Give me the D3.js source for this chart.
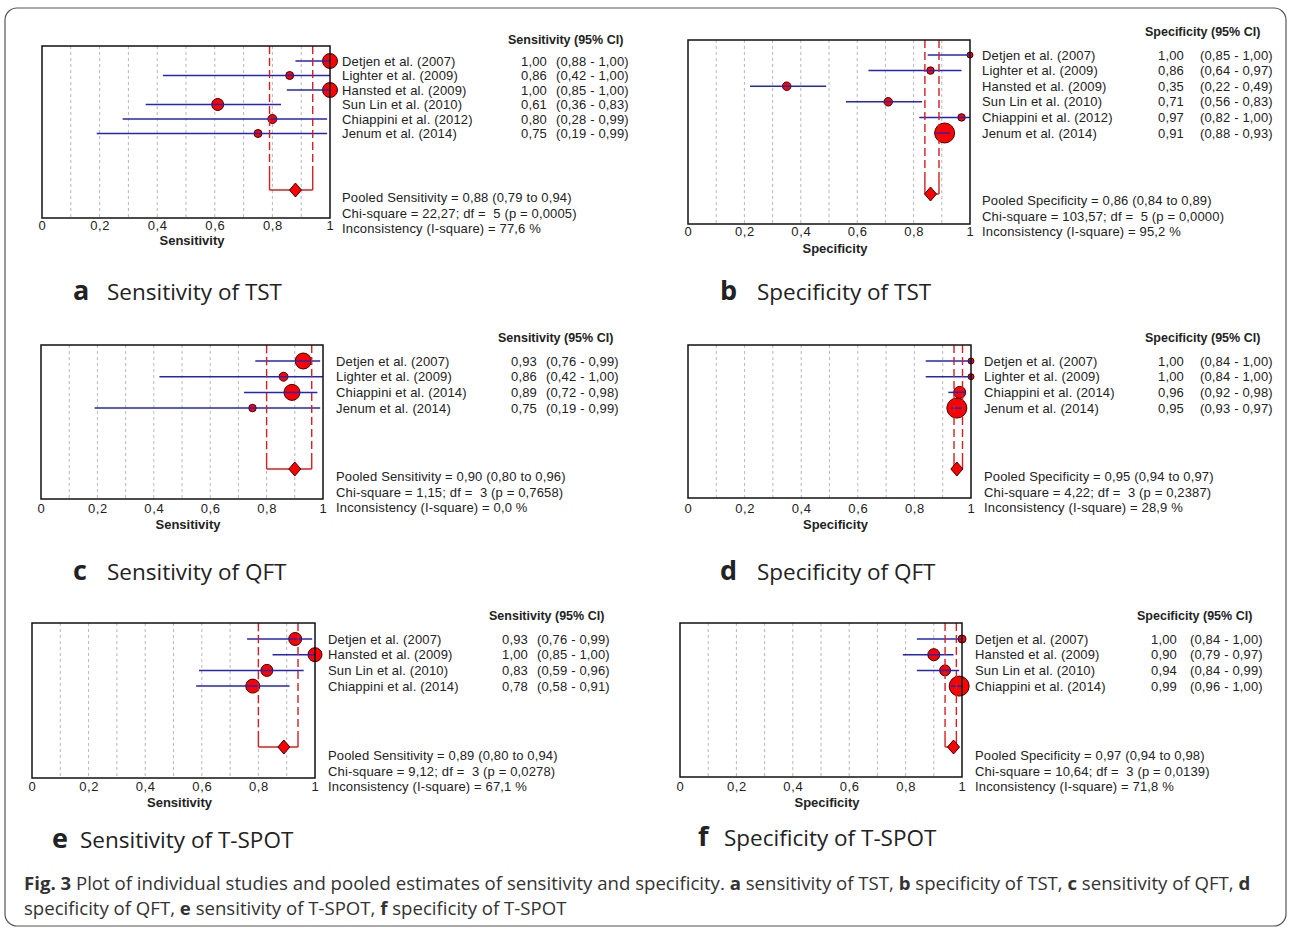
<!DOCTYPE html>
<html>
<head>
<meta charset="utf-8">
<script src="https://cdn.jsdelivr.net/npm/d3@7"></script>
<style>
  body { margin: 0; background: #fff; }
  svg { display: block; }
  .plot text { font-family: "Liberation Sans", Arial, sans-serif; font-size: 13px; letter-spacing: 0.15px; fill: #222; white-space: pre; }
  .plot .hdr { font-weight: bold; font-size: 12.5px; letter-spacing: 0; }
  .plot .xlab { font-weight: bold; font-size: 13px; letter-spacing: 0; }
  .plabel { font-family: "Open Sans", sans-serif; font-size: 22.5px; fill: #222; }
  .caption { font-family: "Open Sans", sans-serif; font-size: 18.6px; fill: #333; }
</style>
</head>
<body>
<svg width="1292" height="929"></svg>
<script>
// ---- data ----
const ticks = [0, 0.2, 0.4, 0.6, 0.8, 1];

// a: sensitivity of TST
const studiesA = ['Detjen et al. (2007)', 'Lighter et al. (2009)', 'Hansted et al. (2009)', 'Sun Lin et al. (2010)', 'Chiappini et al. (2012)', 'Jenum et al. (2014)'];
const estA = [1.00, 0.86, 1.00, 0.61, 0.80, 0.75];
const loA  = [0.88, 0.42, 0.85, 0.36, 0.28, 0.19];
const hiA  = [1.00, 1.00, 1.00, 0.83, 0.99, 0.99];
const wA   = [56, 16, 56, 36, 20, 16];
const pooledA = [0.88, 0.79, 0.94];
const statsA  = [22.27, 5, 0.0005, 77.6];

// b: specificity of TST
const studiesB = studiesA;
const estB = [1.00, 0.86, 0.35, 0.71, 0.97, 0.91];
const loB  = [0.85, 0.64, 0.22, 0.56, 0.82, 0.88];
const hiB  = [1.00, 0.97, 0.49, 0.83, 1.00, 0.93];
const wB   = [9, 14, 18, 18, 14, 100];
const pooledB = [0.86, 0.84, 0.89];
const statsB  = [103.57, 5, 0.0000, 95.2];

// c: sensitivity of QFT
const studiesC = ['Detjen et al. (2007)', 'Lighter et al. (2009)', 'Chiappini et al. (2014)', 'Jenum et al. (2014)'];
const estC = [0.93, 0.86, 0.89, 0.75];
const loC  = [0.76, 0.42, 0.72, 0.19];
const hiC  = [0.99, 1.00, 0.98, 0.99];
const wC   = [64, 20, 64, 14];
const pooledC = [0.90, 0.80, 0.96];
const statsC  = [1.15, 3, 0.7658, 0.0];

// d: specificity of QFT
const studiesD = studiesC;
const estD = [1.00, 1.00, 0.96, 0.95];
const loD  = [0.84, 0.84, 0.92, 0.93];
const hiD  = [1.00, 1.00, 0.98, 0.97];
const wD   = [9, 9, 36, 100];
const pooledD = [0.95, 0.94, 0.97];
const statsD  = [4.22, 3, 0.2387, 28.9];

// e: sensitivity of T-SPOT
const studiesE = ['Detjen et al. (2007)', 'Hansted et al. (2009)', 'Sun Lin et al. (2010)', 'Chiappini et al. (2014)'];
const estE = [0.93, 1.00, 0.83, 0.78];
const loE  = [0.76, 0.85, 0.59, 0.58];
const hiE  = [0.99, 1.00, 0.96, 0.91];
const wE   = [42, 49, 36, 49];
const pooledE = [0.89, 0.80, 0.94];
const statsE  = [9.12, 3, 0.0278, 67.1];

// f: specificity of T-SPOT
const studiesF = studiesE;
const estF = [1.00, 0.90, 0.94, 0.99];
const loF  = [0.84, 0.79, 0.84, 0.96];
const hiF  = [1.00, 0.97, 0.99, 1.00];
const wF   = [16, 36, 30, 100];
const pooledF = [0.97, 0.94, 0.98];
const statsF  = [10.64, 3, 0.0139, 71.8];

const titles = ['Sensitivity of TST', 'Specificity of TST', 'Sensitivity of QFT', 'Specificity of QFT', 'Sensitivity of T-SPOT', 'Specificity of T-SPOT'];
const measures = ['Sensitivity', 'Specificity', 'Sensitivity', 'Specificity', 'Sensitivity', 'Specificity'];

// ---- layout ----
const layout = [
  { x0: 42,  x1: 330, top: 46,  bottom: 218, row0: 61,  step: 14.5, pooledY: 190, textX: 342, estEnd: 547,  ciX: 556,  hdrX: 508,  hdrY: 44,  statsY: 202, tickY: 231, labY: 245, lab: [73, 107, 300] },
  { x0: 688, x1: 970, top: 40,  bottom: 224, row0: 55,  step: 15.6, pooledY: 194, textX: 982, estEnd: 1184, ciX: 1200, hdrX: 1145, hdrY: 36,  statsY: 205, tickY: 237, labY: 253, lab: [720, 757, 300] },
  { x0: 41,  x1: 323, top: 345, bottom: 499, row0: 361, step: 15.7, pooledY: 469, textX: 336, estEnd: 537,  ciX: 546,  hdrX: 498,  hdrY: 342, statsY: 481, tickY: 514, labY: 529, lab: [73, 107, 580] },
  { x0: 688, x1: 971, top: 345, bottom: 498, row0: 361, step: 15.7, pooledY: 469, textX: 984, estEnd: 1184, ciX: 1200, hdrX: 1145, hdrY: 342, statsY: 481, tickY: 514, labY: 529, lab: [720, 757, 580] },
  { x0: 32,  x1: 315, top: 623, bottom: 778, row0: 639, step: 15.7, pooledY: 747, textX: 328, estEnd: 528,  ciX: 537,  hdrX: 489,  hdrY: 620, statsY: 760, tickY: 792, labY: 807, lab: [52, 80, 848] },
  { x0: 680, x1: 962, top: 623, bottom: 777, row0: 639, step: 15.7, pooledY: 747, textX: 975, estEnd: 1177, ciX: 1190, hdrX: 1137, hdrY: 620, statsY: 760, tickY: 792, labY: 807, lab: [698, 724, 846] }
];

const panels = [
  [studiesA, estA, loA, hiA, wA, pooledA, statsA],
  [studiesB, estB, loB, hiB, wB, pooledB, statsB],
  [studiesC, estC, loC, hiC, wC, pooledC, statsC],
  [studiesD, estD, loD, hiD, wD, pooledD, statsD],
  [studiesE, estE, loE, hiE, wE, pooledE, statsE],
  [studiesF, estF, loF, hiF, wF, pooledF, statsF]
].map((p, i) => ({
  key: 'abcdef'[i], title: titles[i], measure: measures[i],
  rows: p[0].map((s, j) => ({ study: s, est: p[1][j], lo: p[2][j], hi: p[3][j], w: p[4][j] })),
  pooled: p[5], stats: p[6], L: layout[i]
}));

const comma = (f) => (v) => d3.format(f)(v).replace('.', ',');
const f2 = comma('.2f');
const tickFmt = (v) => (v === 0 || v === 1) ? String(v) : comma('.1f')(v);
const rScale = d3.scaleSqrt().domain([0, 100]).range([0, 10]);

const svg = d3.select('svg');
svg.append('rect').attr('width', 1292).attr('height', 929).attr('fill', '#fff');
svg.append('rect')
  .attr('x', 5).attr('y', 8).attr('width', 1281).attr('height', 918).attr('rx', 12)
  .attr('fill', 'none').attr('stroke', '#555').attr('stroke-width', 1.2);

panels.forEach((p) => {
  const L = p.L;
  const g = svg.append('g').attr('class', 'plot');
  const x = d3.scaleLinear().domain([0, 1]).range([L.x0, L.x1]);
  const y = d3.scaleLinear().domain([0, 1]).range([L.row0, L.row0 + L.step]);

  // grid
  g.selectAll('.grid')
    .data(d3.range(1, 10).map((d) => d / 10))
    .enter().append('line')
    .attr('x1', (d) => x(d)).attr('x2', (d) => x(d))
    .attr('y1', L.top).attr('y2', L.bottom)
    .attr('stroke', '#b8b8b8').attr('stroke-dasharray', '3,3');

  // markers
  g.selectAll('.pt')
    .data(p.rows)
    .enter().append('circle')
    .attr('cx', (d) => x(d.est)).attr('cy', (d, i) => y(i))
    .attr('r', (d) => rScale(d.w))
    .attr('fill', '#ff0000').attr('stroke', '#3a0000').attr('stroke-width', 1);

  // CI lines
  g.selectAll('.ci')
    .data(p.rows)
    .enter().append('line')
    .attr('x1', (d) => x(d.lo)).attr('x2', (d) => x(d.hi))
    .attr('y1', (d, i) => y(i)).attr('y2', (d, i) => y(i))
    .attr('stroke', '#2525b8').attr('stroke-width', 1.5);

  // pooled CI bracket: dashed guides ending in a solid |___| at the pooled row
  [p.pooled[1], p.pooled[2]].forEach((v) => {
    g.append('line')
      .attr('x1', x(v)).attr('x2', x(v))
      .attr('y1', L.top).attr('y2', L.pooledY - 16)
      .attr('stroke', '#d42020').attr('stroke-width', 1.4).attr('stroke-dasharray', '8,4');
    g.append('line')
      .attr('x1', x(v)).attr('x2', x(v))
      .attr('y1', L.pooledY - 16).attr('y2', L.pooledY)
      .attr('stroke', '#d42020').attr('stroke-width', 1.4);
  });
  g.append('line')
    .attr('x1', x(p.pooled[1])).attr('x2', x(p.pooled[2]))
    .attr('y1', L.pooledY).attr('y2', L.pooledY)
    .attr('stroke', '#d42020').attr('stroke-width', 1.4);
  const cx = x(p.pooled[0]);
  g.append('path')
    .attr('d', `M${cx - 6},${L.pooledY} L${cx},${L.pooledY - 7} L${cx + 6},${L.pooledY} L${cx},${L.pooledY + 7} Z`)
    .attr('fill', '#ff0000').attr('stroke', '#3a0000').attr('stroke-width', 1);

  // frame
  g.append('rect')
    .attr('x', L.x0).attr('y', L.top).attr('width', L.x1 - L.x0).attr('height', L.bottom - L.top)
    .attr('fill', 'none').attr('stroke', '#111').attr('stroke-width', 1.5);

  // x axis (labels only)
  const ax = g.append('g')
    .attr('transform', `translate(0, ${L.tickY - 12})`)
    .call(d3.axisBottom(x).tickValues(ticks).tickSize(0).tickPadding(0).tickFormat(tickFmt));
  ax.select('.domain').remove();
  ax.selectAll('text').attr('dy', '0.71em').attr('y', 2)
    .style('font-family', '"Liberation Sans", Arial, sans-serif').style('font-size', '13px')
    .style('letter-spacing', '0.6px').attr('fill', '#222');

  g.append('text').attr('class', 'xlab')
    .attr('x', (L.x0 + L.x1) / 2 + 6).attr('y', L.labY).attr('text-anchor', 'middle')
    .text(p.measure);

  // header
  g.append('text').attr('class', 'hdr').attr('x', L.hdrX).attr('y', L.hdrY)
    .text(`${p.measure} (95% CI)`);

  // study rows
  const rows = g.selectAll('.row').data(p.rows).enter().append('g');
  rows.append('text').attr('x', L.textX).attr('y', (d, i) => y(i) + 4.5).text((d) => d.study);
  rows.append('text').attr('x', L.estEnd).attr('y', (d, i) => y(i) + 4.5).attr('text-anchor', 'end').text((d) => f2(d.est));
  rows.append('text').attr('x', L.ciX).attr('y', (d, i) => y(i) + 4.5).text((d) => `(${f2(d.lo)} - ${f2(d.hi)})`);

  // pooled stats
  const st = p.stats;
  const lines = [
    `Pooled ${p.measure} = ${f2(p.pooled[0])} (${f2(p.pooled[1])} to ${f2(p.pooled[2])})`,
    `Chi-square = ${f2(st[0])}; df =  ${st[1]} (p = ${comma('.4f')(st[2])})`,
    `Inconsistency (I-square) = ${comma('.1f')(st[3])} %`
  ];
  g.selectAll('.stat').data(lines).enter().append('text')
    .attr('x', L.textX).attr('y', (d, i) => L.statsY + i * 15.5)
    .text((d) => d);

  // panel label
  const pl = svg.append('text').attr('class', 'plabel').attr('y', L.lab[2]);
  pl.append('tspan').attr('x', L.lab[0]).style('font-weight', 'bold').style('font-size', '27px').text(p.key);
  pl.append('tspan').attr('x', L.lab[1]).text(p.title);
});

// caption
const l1 = [['Fig. 3', true], [' Plot of individual studies and pooled estimates of sensitivity and specificity. ', false],
  ['a', true], [' sensitivity of TST, ', false], ['b', true], [' specificity of TST, ', false],
  ['c', true], [' sensitivity of QFT, ', false], ['d', true]];
const l2 = [['specificity of QFT, ', false], ['e', true], [' sensitivity of T-SPOT, ', false], ['f', true], [' specificity of T-SPOT', false]];
[[l1, 890], [l2, 915]].forEach(([parts, yy]) => {
  const t = svg.append('text').attr('class', 'caption').attr('x', 24).attr('y', yy).style('white-space', 'pre');
  parts.forEach(([s, b]) => t.append('tspan').style('font-weight', b ? 'bold' : 'normal').text(s));
});
</script>
</body>
</html>
